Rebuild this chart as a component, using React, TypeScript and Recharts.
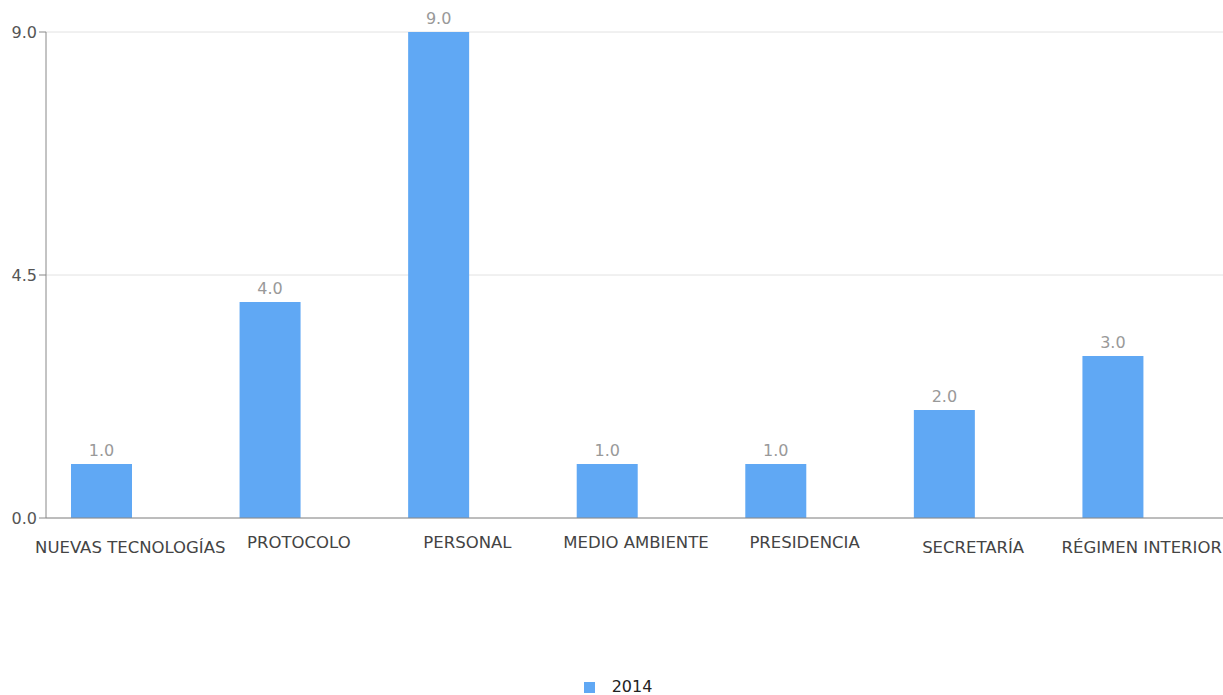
import React from "react";
import { BarChart, Bar, XAxis, YAxis, CartesianGrid, Legend, LabelList } from "recharts";

const categories = [
  "NUEVAS TECNOLOGÍAS",
  "PROTOCOLO",
  "PERSONAL",
  "MEDIO AMBIENTE",
  "PRESIDENCIA",
  "SECRETARÍA",
  "RÉGIMEN INTERIOR",
];
const values2014 = [1.0, 4.0, 9.0, 1.0, 1.0, 2.0, 3.0];
const seriesName = "2014";
const yTicks = [0, 4.5, 9.0];

const data = categories.map((c, i) => ({ name: c, v: values2014[i], pad: 0 }));

const FONT = "DejaVu Sans, sans-serif";
const BAR_COLOR = "#60A8F4";

const accented = /[ÁÉÍÓÚÑÜ]/;

const CategoryTick = (props: any) => {
  const { x, y, payload } = props;
  const label: string = payload.value;
  const extra = accented.test(label) ? 5 : 0;
  return (
    <text
      x={x}
      y={y + 22 + extra}
      textAnchor="middle"
      fill="#444"
      fontSize={16.5}
      fontFamily={FONT}
    >
      {label}
    </text>
  );
};

export default function App() {
  return (
    <div style={{ position: "absolute", left: 0, top: 0, width: 1223, height: 695, overflow: "hidden", background: "#fff" }}>
      <BarChart
        width={1227}
        height={695}
        data={data}
        margin={{ top: 32, right: 1, left: 0, bottom: 0 }}
        barCategoryGap={0}
        barGap={0}
      >
        <CartesianGrid vertical={false} stroke="#e2e2e2" />
        <XAxis
          dataKey="name"
          tick={<CategoryTick />}
          tickLine={false}
          axisLine={{ stroke: "#888" }}
          height={161}
          interval={0}
        />
        <YAxis
          width={46}
          domain={[0, 9]}
          ticks={yTicks}
          tickFormatter={(v: number) => v.toFixed(1)}
          tick={{ fill: "#555", fontSize: 16, fontFamily: FONT }}
          tickLine={{ stroke: "#888" }}
          tickSize={7}
          axisLine={{ stroke: "#888" }}
        />
        <Legend
          verticalAlign="bottom"
          align="center"
          iconType="square"
          iconSize={11}
          wrapperStyle={{ height: 16, lineHeight: "16px", paddingLeft: 10, fontFamily: FONT, fontSize: 16, color: "#222" }}
          formatter={(v: string) => <span style={{ color: "#222", marginLeft: 13 }}>{v}</span>}
        />
        <Bar dataKey="v" name={seriesName} fill={BAR_COLOR} barSize={61} isAnimationActive={false}>
          <LabelList
            dataKey="v"
            position="top"
            offset={8}
            formatter={(v: number) => v.toFixed(1)}
            fill="#999"
            fontSize={16}
            fontFamily={FONT}
          />
        </Bar>
        <Bar dataKey="pad" fill="transparent" barSize={58} legendType="none" isAnimationActive={false} />
      </BarChart>
    </div>
  );
}
